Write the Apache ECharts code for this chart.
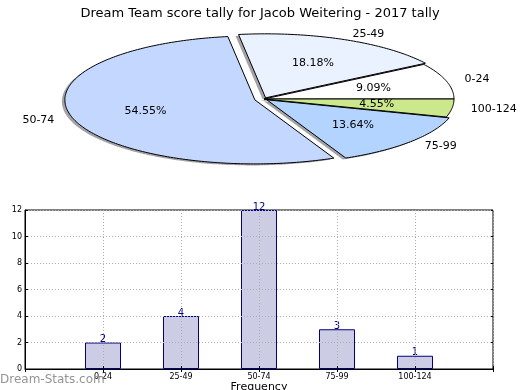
<!DOCTYPE html>
<html>
<head>
<meta charset="utf-8">
<script src="https://cdn.jsdelivr.net/npm/echarts@6/dist/echarts.min.js"></script>
<style>
html,body{margin:0;padding:0;background:#fff;}
#chart{width:520px;height:390px;}
</style>
</head>
<body>
<div id="chart"></div>
<script>
// ---- data ----
const titleText = 'Dream Team score tally for Jacob Weitering - 2017 tally';
const categories = ['0-24', '25-49', '50-74', '75-99', '100-124'];
const counts = [2, 4, 12, 3, 1];
const yTicks = [0, 2, 4, 6, 8, 10, 12];

// ---- styles / layout ----
const sliceColors = ['#ffffff', '#ebf2ff', '#c4d8ff', '#b3d4ff', '#cce88c'];
const explode = [0, 0.02, 0.05, 0.02, 0];
const PIE = {cx: 264, cy: 99, rx: 190, ry: 64};
const FONT = 'DejaVu Sans';

const total = counts.reduce((a, b) => a + b, 0);
const startFrac = [];
counts.reduce((acc, v, i) => { startFrac[i] = acc / total; return acc + v; }, 0);

function renderSlice(params, api) {
  const i = params.dataIndex;
  const v = api.value(0);
  const a0 = startFrac[i] * 2 * Math.PI;
  const a1 = a0 + v / total * 2 * Math.PI;
  const mid = (a0 + a1) / 2;
  const e = explode[i];
  const ox = PIE.cx + e * PIE.rx * Math.cos(mid);
  const oy = PIE.cy - e * PIE.ry * Math.sin(mid);
  const pts = [[ox, oy]];
  const steps = Math.max(4, Math.ceil((a1 - a0) / (Math.PI / 180)));
  for (let k = 0; k <= steps; k++) {
    const t = a0 + (a1 - a0) * k / steps;
    pts.push([ox + PIE.rx * Math.cos(t), oy - PIE.ry * Math.sin(t)]);
  }
  const shadowPts = pts.map(p => [p[0] - 3, p[1] + 1.5]);
  const lx = ox + 1.1 * PIE.rx * Math.cos(mid);
  const ly = oy - 1.1 * PIE.ry * Math.sin(mid);
  const px = ox + 0.6 * PIE.rx * Math.cos(mid);
  const py = oy - 0.6 * PIE.ry * Math.sin(mid);
  return {
    type: 'group',
    children: [
      {type: 'polygon', z2: 0, shape: {points: shadowPts},
       style: {fill: 'rgba(70,70,80,0.5)', stroke: null}},
      {type: 'polygon', z2: 10, shape: {points: pts},
       style: {fill: sliceColors[i], stroke: '#000', lineWidth: 1, lineJoin: 'miter'}},
      {type: 'text', z2: 20, style: {
        text: categories[i], x: lx, y: ly,
        align: Math.cos(mid) >= 0 ? 'left' : 'right', verticalAlign: 'middle',
        font: '11px "' + FONT + '"', fill: '#000'}},
      {type: 'text', z2: 20, style: {
        text: (v / total * 100).toFixed(2) + '%', x: px, y: py,
        align: 'center', verticalAlign: 'middle',
        font: '11px "' + FONT + '"', fill: '#000'}}
    ]
  };
}

const xData = [''].concat(categories, ['']);
const barData = [null].concat(counts, [null]);

const chart = echarts.init(document.getElementById('chart'), null, {renderer: 'canvas'});
chart.setOption({
  animation: false,
  backgroundColor: '#fff',
  textStyle: {fontFamily: FONT},
  title: {
    text: titleText, left: 'center', top: 2,
    textStyle: {fontFamily: FONT, fontSize: 13, fontWeight: 'normal', color: '#000'}
  },
  graphic: [{
    type: 'text', left: 0, top: 374, z: 100,
    style: {text: 'Dream-Stats.com', font: '12px "' + FONT + '"', fill: '#959595'}
  }],
  grid: {left: 25, right: 27, top: 210, bottom: 21, show: true,
         containLabel: false, outerBoundsMode: 'none',
         borderColor: '#000', borderWidth: 1, backgroundColor: 'transparent'},
  xAxis: [{
    type: 'category', data: xData, boundaryGap: false, z: 5,
    name: 'Frequency', nameLocation: 'middle', nameGap: 13,
    nameTextStyle: {fontFamily: FONT, fontSize: 11, color: '#000'},
    axisLine: {show: true, lineStyle: {color: '#000', width: 1}},
    axisTick: {show: true, inside: true, length: 3, lineStyle: {color: '#000'}},
    axisLabel: {fontFamily: FONT, fontSize: 8, color: '#000', margin: 4, interval: 0},
    splitLine: {show: true, lineStyle: {color: '#b0b0b0', type: [1, 2], width: 1}}
  }, {
    type: 'category', data: xData, boundaryGap: false, position: 'top',
    axisLine: {show: false}, axisLabel: {show: false},
    axisTick: {show: true, inside: true, length: 3, lineStyle: {color: '#000'}},
    splitLine: {show: false}
  }],
  yAxis: [{
    type: 'value', min: 0, max: 12, interval: 2, z: 5,
    name: 'Stat Intervals', nameLocation: 'middle', nameGap: 14,
    nameTextStyle: {fontFamily: FONT, fontSize: 11, color: '#000'},
    axisLine: {show: true, lineStyle: {color: '#000', width: 1}},
    axisTick: {show: true, inside: true, length: 3, lineStyle: {color: '#000'}},
    axisLabel: {fontFamily: FONT, fontSize: 8, color: '#000', margin: 3,
                customValues: yTicks},
    splitLine: {show: true, lineStyle: {color: '#b0b0b0', type: [1, 2], width: 1}}
  }, {
    type: 'value', min: 0, max: 12, interval: 2, position: 'right',
    axisLine: {show: false}, axisLabel: {show: false},
    axisTick: {show: true, inside: true, length: 3, lineStyle: {color: '#000'}},
    splitLine: {show: false}
  }],
  series: [{
    type: 'custom', coordinateSystem: 'none',
    data: counts, renderItem: renderSlice, silent: true
  }, {
    type: 'bar', xAxisIndex: 0, yAxisIndex: 0, data: barData, barWidth: 36,
    itemStyle: {color: '#cccce4', borderColor: '#000080', borderWidth: 1},
    label: {show: true, position: 'top', distance: -2, fontFamily: FONT, fontSize: 10,
            color: '#000080'}
  }]
});
</script>
</body>
</html>
